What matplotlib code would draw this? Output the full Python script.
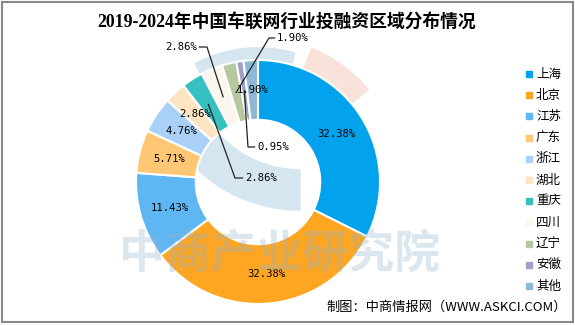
import numpy as np
import matplotlib.pyplot as plt
from matplotlib.patches import Wedge, Rectangle
from matplotlib.lines import Line2D

plt.rcParams['font.family'] = ['Noto Sans CJK SC', 'DejaVu Sans']

regions = ['上海', '北京', '江苏', '广东', '浙江', '湖北', '重庆', '四川', '辽宁', '安徽', '其他']
shares = [32.38, 32.38, 11.43, 5.71, 4.76, 2.86, 2.86, 2.86, 1.90, 0.95, 1.90]
colors = ['#02A3EC', '#FEA621', '#5EB6F2', '#FFC773', '#A9D1F7', '#FDE5C3',
          '#36C0C0', '#FBF6EE', '#B5C8A0', '#A0A0C8', '#8DB9D6']

W, H = 575, 326
cx, cy, R = 258, 182, 122   # pie centre and radius in pixels

fig = plt.figure(figsize=(W / 100, H / 100), dpi=100)
ax = fig.add_axes([(cx - R) / W, (H - cy - R) / H, 2 * R / W, 2 * R / H])

# pale logo shapes behind the ring
ax.add_patch(Wedge((0, 0), 1.18, 40, 68, width=0.22, color='#F8E2D9', zorder=0, clip_on=False))
ax.add_patch(Wedge((0, 0), 1.1, 74, 118, width=0.12, color='#D6E6F1', zorder=0, clip_on=False))
ax.add_patch(Wedge((0.344, 1.0), 1.23, 205, 270, width=0.33, color='#D6E6F1', zorder=0, clip_on=False))

wedges, _ = ax.pie(shares, colors=colors, radius=1, startangle=90, counterclock=False,
                   wedgeprops=dict(width=0.49, edgecolor='white', linewidth=1.5))
ax.set_xlim(-1, 1)
ax.set_ylim(-1, 1)
ax.axis('off')

lab_font = dict(family='DejaVu Sans Mono', fontsize=7.6, color='black')
r_lab = 0.755


def px(x, y):
    # pixel position -> pie axes data coords
    return (x - cx) / R, (cy - y) / R


cum = np.cumsum([0] + shares[:-1])
mids = [90 - 3.6 * (c + s / 2) for c, s in zip(cum, shares)]
anchors = [(r_lab * np.cos(np.radians(m)), r_lab * np.sin(np.radians(m))) for m in mids]
labels = ['%.2f%%' % s for s in shares]

inside = [0, 1, 2, 3, 4, 5, 10]
for i in inside:
    x, y = anchors[i]
    ax.text(x, y, labels[i], ha='center', va='center', zorder=5, **lab_font)

# leader-line labels: index -> (elbow pixel, text pixel, ha)
leaders = {
    6: ((235, 178), (245, 178), 'left'),
    7: ((207, 47), (197, 47), 'right'),
    8: ((269, 38), (277, 38), 'left'),
}
for i, (elbow, tpos, ha) in leaders.items():
    ex, ey = px(*elbow)
    tx, ty = px(*tpos)
    x, y = anchors[i]
    ax.plot([x, ex, tx - (0.02 if ha == 'left' else -0.02)], [y, ey, ty], color='#222222',
            lw=0.9, zorder=6, clip_on=False)
    ax.text(tx, ty, labels[i], ha=ha, va='center', zorder=6, clip_on=False, **lab_font)

# 安徽 label with two bends
x, y = anchors[9]
e1 = px(248, 147)
t9 = px(257, 147)
ax.plot([x, e1[0], t9[0] - 0.02], [y, e1[1], t9[1]], color='#222222', lw=0.9, zorder=6)
ax.text(t9[0], t9[1], labels[9], ha='left', va='center', zorder=6, **lab_font)

# watermark
fig.text(280 / W, 1 - 255 / H, '中商产业研究院', fontsize=33, color='#8FB4D0', alpha=0.32,
         ha='center', va='center', fontweight='bold', zorder=10)

# title
fig.text(287 / W, 1 - 22 / H, '2019-2024年中国车联网行业投融资区域分布情况',
         family=['Liberation Serif', 'Noto Sans CJK SC'], fontweight='bold', fontsize=12.8,
         ha='center', va='center')

# legend
for i, name in enumerate(regions):
    yy = 1 - (74 + 21.2 * i) / H
    fig.add_artist(Line2D([529 / W], [yy], marker='s', markersize=4, color=colors[i],
                          linestyle='none', transform=fig.transFigure))
    fig.text(536 / W, yy, name, fontsize=9, va='center', ha='left')

# source
fig.text(567 / W, 1 - 307 / H, '制图：中商情报网（WWW.ASKCI.COM）', fontsize=9.5,
         ha='right', va='center')

# frame
fig.add_artist(Rectangle((1.5 / W, 4 / H), 571 / W, 320.5 / H, fill=False, edgecolor='#888888',
                         linewidth=1.5, transform=fig.transFigure))

fig.savefig('out.png', dpi=100)
